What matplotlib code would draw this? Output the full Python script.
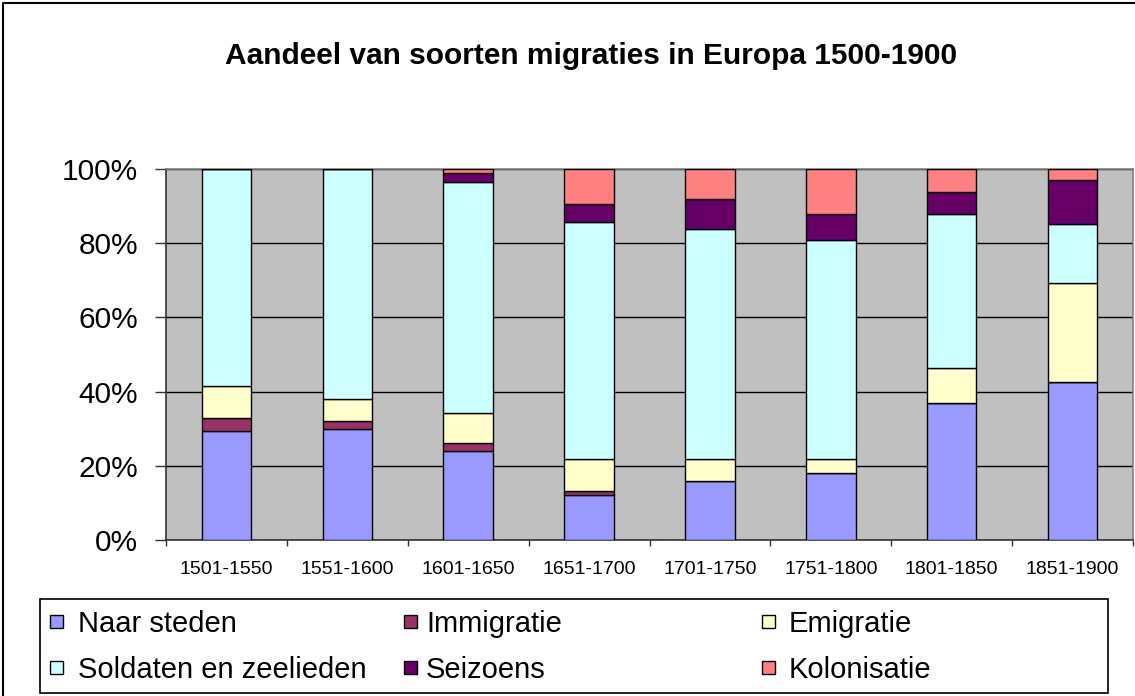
"""Aandeel van soorten migraties in Europa 1500-1900 — 100% stacked bar chart.

Re-draws the Excel-style chart: grey plot area, stacked shares per half
century, legend box underneath. Writes ``out.png`` (1135x696 px).
"""

from __future__ import annotations

import matplotlib

matplotlib.use("Agg")
import matplotlib.pyplot as plt
from matplotlib.lines import Line2D
from matplotlib.patches import Rectangle
from matplotlib.ticker import FixedLocator, PercentFormatter

PERIODS = [
    "1501-1550", "1551-1600", "1601-1650", "1651-1700",
    "1701-1750", "1751-1800", "1801-1850", "1851-1900",
]
# shares in percent (bottom -> top)
NAAR_STEDEN = [29.5, 29.9, 24.0, 12.0, 15.9, 18.0, 37.0, 42.5]
IMMIGRATIE = [3.3, 2.1, 2.1, 1.1, 0.0, 0.0, 0.0, 0.0]
EMIGRATIE = [8.8, 6.1, 8.1, 8.8, 6.0, 3.9, 9.3, 26.7]
SOLDATEN = [58.4, 61.9, 62.4, 63.9, 62.0, 58.9, 41.5, 15.9]
SEIZOENS = [0.0, 0.0, 2.3, 4.9, 7.9, 7.2, 6.1, 12.0]
KOLONISATIE = [0.0, 0.0, 1.1, 9.3, 8.2, 12.0, 6.1, 2.9]

SERIES_NAMES = [
    "Naar steden", "Immigratie", "Emigratie",
    "Soldaten en zeelieden", "Seizoens", "Kolonisatie",
]
SERIES_VALUES = [NAAR_STEDEN, IMMIGRATIE, EMIGRATIE, SOLDATEN, SEIZOENS, KOLONISATIE]
SERIES_COLORS = ["#9999FF", "#993366", "#FFFFCC", "#CCFFFF", "#660066", "#FF8080"]

TITLE = "Aandeel van soorten migraties in Europa 1500-1900"

_W, _H = 1135, 696
_DPI = 100


def _fx(px: float) -> float:
    return px / _W


def _fy(py: float) -> float:
    # pixel rows are counted from the top
    return 1 - py / _H


def _draw_bars(ax) -> None:
    positions = list(range(len(PERIODS)))
    bottoms = [0.0] * len(PERIODS)
    for values, color in zip(SERIES_VALUES, SERIES_COLORS, strict=True):
        ax.bar(positions, values, width=0.41, bottom=bottoms, color=color,
               edgecolor="black", linewidth=1.0, zorder=3)
        bottoms = [b + v for b, v in zip(bottoms, values, strict=True)]


def _style_axes(ax) -> None:
    ax.set_facecolor("#C0C0C0")
    ax.set_xlim(-0.5, len(PERIODS) - 0.5)
    ax.set_ylim(0, 100)

    ax.yaxis.set_major_locator(FixedLocator([0, 20, 40, 60, 80, 100]))
    ax.yaxis.set_major_formatter(PercentFormatter(decimals=0))
    ax.tick_params(axis="y", direction="out", length=8, width=1, pad=12,
                   labelsize=21.5, color="#333333")
    ax.grid(True, axis="y", color="black", linewidth=1, zorder=1)

    # labels on the category centres, tick marks on the boundaries
    ax.set_xticks(range(len(PERIODS)))
    ax.set_xticklabels(PERIODS)
    ax.set_xticks([i - 0.5 for i in range(len(PERIODS) + 1)], minor=True)
    ax.tick_params(axis="x", which="major", length=0, pad=15, labelsize=14)
    ax.tick_params(axis="x", which="minor", direction="out", length=4.5,
                   width=1, color="#333333")

    for side in ("left", "bottom"):
        ax.spines[side].set_color("#333333")
        ax.spines[side].set_linewidth(1.2)
    for side in ("top", "right"):
        ax.spines[side].set_color("#808080")
        ax.spines[side].set_linewidth(1.2)
    ax.set_axisbelow(True)


def _draw_legend(fig) -> None:
    # legend box, laid out row by row like the Excel original
    fig.add_artist(Rectangle((_fx(40), _fy(693)), _fx(1108) - _fx(40), _fy(599) - _fy(693),
                             transform=fig.transFigure, facecolor="white",
                             edgecolor="black", linewidth=1.2))
    col_marker = [50, 404, 762]
    col_text = [78, 426, 789]
    row_y = [621, 667]
    box = 13
    for i, (name, color) in enumerate(zip(SERIES_NAMES, SERIES_COLORS, strict=True)):
        row, col = divmod(i, 3)
        y = row_y[row]
        fig.add_artist(Rectangle((_fx(col_marker[col]), _fy(y + box / 2)), _fx(box), box / _H,
                                 transform=fig.transFigure, facecolor=color,
                                 edgecolor="black", linewidth=1.0))
        fig.text(_fx(col_text[col]), _fy(y), name, fontsize=21,
                 ha="left", va="center_baseline")


def main() -> None:
    plt.rcParams["font.family"] = ["Liberation Sans", "DejaVu Sans"]
    fig = plt.figure(figsize=(_W / _DPI, _H / _DPI), dpi=_DPI)

    # outer chart frame (right and bottom edges are cropped in the original)
    fig.add_artist(Line2D([_fx(3), _fx(3), _fx(_W + 5)], [_fy(_H + 5), _fy(3), _fy(3)],
                          transform=fig.transFigure, color="black", linewidth=1.5))

    left, right, top, bottom = 166, 1133, 169, 540
    ax = fig.add_axes([_fx(left), _fy(bottom), _fx(right - left), (bottom - top) / _H])
    _draw_bars(ax)
    _style_axes(ax)

    fig.text(_fx(591), _fy(64), TITLE, fontsize=21.5, fontweight="bold",
             ha="center", va="baseline")
    _draw_legend(fig)

    fig.savefig("out.png", dpi=_DPI, facecolor="white")
    plt.close(fig)


if __name__ == "__main__":
    main()
